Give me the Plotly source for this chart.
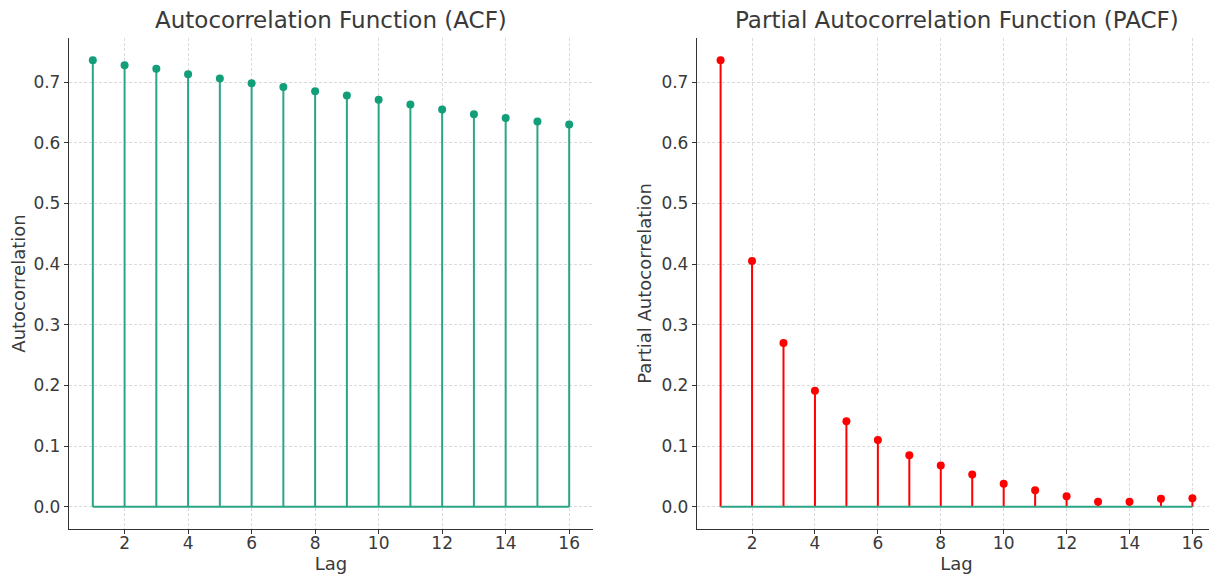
import plotly.graph_objects as go

lags = list(range(1, 17))
acf_values = [0.736, 0.728, 0.722, 0.713, 0.706, 0.698, 0.692, 0.685,
              0.678, 0.671, 0.663, 0.655, 0.647, 0.641, 0.635, 0.630]
pacf_values = [0.736, 0.405, 0.270, 0.191, 0.141, 0.110, 0.085, 0.068,
               0.053, 0.038, 0.027, 0.017, 0.008, 0.008, 0.013, 0.014]
x_ticks = list(range(2, 17, 2))
y_ticks = [0.0, 0.1, 0.2, 0.3, 0.4, 0.5, 0.6, 0.7]

TEAL_LINE = "#2aa586"
TEAL_MARK = "#129e78"
RED = "#ff0000"
FONT = "DejaVu Sans"
TXT = "#3a3a3a"

# page body adds an 8px offset; the figure is sized so it fits the window
W, H = 1209, 572
OFF = 8

fig = go.Figure()


def stems(xs, ys):
    sx, sy = [], []
    for x, y in zip(xs, ys):
        sx += [x, x, None]
        sy += [0, y, None]
    return sx, sy


def add_panel(values, line_color, mark_color, xa, ya):
    sx, sy = stems(lags, values)
    fig.add_trace(go.Scatter(x=sx, y=sy, mode="lines",
                             line=dict(color=line_color, width=2),
                             xaxis=xa, yaxis=ya, showlegend=False, hoverinfo="skip"))
    fig.add_trace(go.Scatter(x=[min(lags), max(lags)], y=[0, 0], mode="lines",
                             line=dict(color=TEAL_LINE, width=2),
                             xaxis=xa, yaxis=ya, showlegend=False, hoverinfo="skip"))
    fig.add_trace(go.Scatter(x=lags, y=values, mode="markers",
                             marker=dict(color=mark_color, size=8),
                             xaxis=xa, yaxis=ya, showlegend=False))


add_panel(acf_values, TEAL_LINE, TEAL_MARK, "x", "y")
add_panel(pacf_values, RED, RED, "x2", "y2")

xspan = max(lags) - min(lags)
xr = [min(lags) - 0.05 * xspan, max(lags) + 0.05 * xspan]


def yr(vals):
    lo, hi = min(0, min(vals)), max(vals)
    s = hi - lo
    return [lo - 0.05 * s, hi + 0.05 * s]


axis_common = dict(
    showline=True, linecolor="#333333", linewidth=1.3, mirror=False,
    ticks="outside", ticklen=4, tickcolor="#333333", tickwidth=1,
    showgrid=True, gridcolor="#dadada", griddash="3px,2px", gridwidth=0.8,
    zeroline=False, automargin=False,
    tickfont=dict(family=FONT, size=17, color=TXT),
)


def px_x(p):
    return (p - OFF) / W


def px_y(p):
    return 1 - (p - OFF) / H


lab_font = dict(family=FONT, size=18, color=TXT)
title_font = dict(family=FONT, size=23, color=TXT)

fig.update_layout(
    width=W, height=H,
    margin=dict(l=0, r=0, t=0, b=0),
    plot_bgcolor="white", paper_bgcolor="white",
    font=dict(family=FONT, color=TXT),
    xaxis=dict(domain=[px_x(69), px_x(593)], range=xr, tickvals=x_ticks,
               ticklabelstandoff=-6,
               title=dict(text="Lag", font=lab_font, standoff=4),
               anchor="y", **axis_common),
    yaxis=dict(domain=[px_y(529), px_y(38)], range=yr(acf_values), tickvals=y_ticks, tickformat=".1f",
               title=dict(text="Autocorrelation", font=lab_font, standoff=5),
               anchor="x", **axis_common),
    xaxis2=dict(domain=[px_x(697), px_x(1216)], range=xr, tickvals=x_ticks,
                ticklabelstandoff=-6,
                title=dict(text="Lag", font=lab_font, standoff=4),
                anchor="y2", **axis_common),
    yaxis2=dict(domain=[px_y(529), px_y(38)], range=yr(pacf_values), tickvals=y_ticks, tickformat=".1f",
                title=dict(text="Partial Autocorrelation", font=lab_font, standoff=5),
                anchor="x2", **axis_common),
    annotations=[
        dict(text="Autocorrelation Function (ACF)", x=px_x((69 + 593) / 2), y=px_y(20),
             xref="paper", yref="paper", showarrow=False, xanchor="center", yanchor="middle",
             font=title_font),
        dict(text="Partial Autocorrelation Function (PACF)", x=px_x((697 + 1216) / 2), y=px_y(20),
             xref="paper", yref="paper", showarrow=False, xanchor="center", yanchor="middle",
             font=title_font),
    ],
)

fig.write_html("out.html")
